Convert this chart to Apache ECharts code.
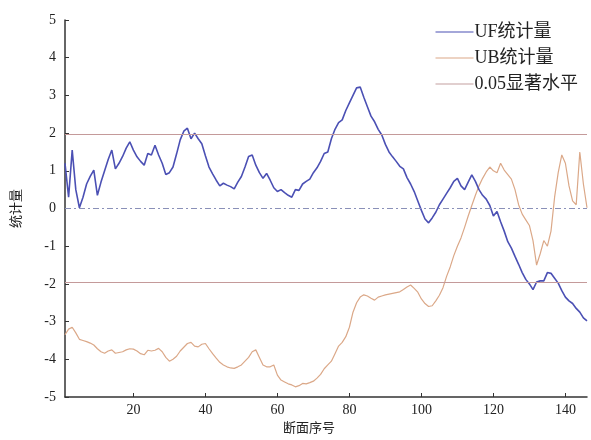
<!DOCTYPE html>
<html>
<head>
<meta charset="utf-8">
<script src="https://cdn.jsdelivr.net/npm/echarts@6/dist/echarts.min.js"></script>
<style>
  html, body { margin: 0; padding: 0; background: #fff; }
  #chart { width: 591px; height: 440px; }
</style>
</head>
<body>
<div id="chart"></div>
<script>
// Mann-Kendall sequential statistics along the section index
const sectionIndex = Array.from({ length: 146 }, (_, i) => i + 1);

const ufValues = [
  1.2, 0.3, 1.55, 0.5, 0.02, 0.3, 0.65, 0.85, 1.02, 0.35,
  0.7, 1.0, 1.3, 1.55, 1.05, 1.2, 1.38, 1.6, 1.77, 1.55,
  1.37, 1.25, 1.15, 1.46, 1.42, 1.68, 1.42, 1.2, 0.9, 0.95,
  1.1, 1.45, 1.82, 2.05, 2.13, 1.85, 2.0, 1.85, 1.72, 1.4,
  1.1, 0.92, 0.75, 0.6, 0.67, 0.62, 0.58, 0.52, 0.7, 0.85,
  1.1, 1.38, 1.42, 1.15, 0.95, 0.8, 0.93, 0.75, 0.55, 0.45,
  0.5, 0.42, 0.35, 0.3, 0.5, 0.48, 0.65, 0.72, 0.78, 0.95,
  1.08, 1.25, 1.46, 1.5, 1.85, 2.1, 2.28, 2.35, 2.6, 2.8,
  3.0, 3.2, 3.22, 2.95, 2.7, 2.45, 2.3, 2.1, 1.95, 1.7,
  1.5, 1.37, 1.25, 1.12, 1.05, 0.82, 0.65, 0.45, 0.2, -0.05,
  -0.28, -0.38, -0.25, -0.1, 0.1, 0.25, 0.4, 0.55, 0.72, 0.8,
  0.6, 0.5, 0.7, 0.89, 0.72, 0.5, 0.35, 0.25, 0.08, -0.2,
  -0.08, -0.35, -0.6, -0.88, -1.05, -1.27, -1.48, -1.7, -1.88, -2.0,
  -2.15, -1.95, -1.92, -1.92, -1.7, -1.72, -1.85, -1.98, -2.18, -2.35,
  -2.45, -2.52, -2.65, -2.75, -2.9, -2.98
];

const ubValues = [
  -3.35, -3.2, -3.15, -3.3, -3.47, -3.5, -3.53, -3.57, -3.62, -3.72,
  -3.8, -3.84, -3.78, -3.75, -3.84, -3.82, -3.8, -3.75, -3.72, -3.73,
  -3.78, -3.85, -3.88, -3.76, -3.78, -3.76, -3.71, -3.8, -3.95, -4.05,
  -4.0, -3.92, -3.78, -3.68, -3.58, -3.55, -3.65, -3.67, -3.6, -3.58,
  -3.72, -3.85, -3.97, -4.08, -4.15, -4.2, -4.23, -4.24, -4.2, -4.15,
  -4.05, -3.95, -3.8, -3.75, -3.95, -4.15, -4.2, -4.2, -4.15, -4.42,
  -4.55, -4.6, -4.65, -4.68, -4.73, -4.7, -4.64, -4.65, -4.62, -4.58,
  -4.5, -4.4, -4.25, -4.15, -4.05, -3.85, -3.65, -3.55, -3.4, -3.15,
  -2.75, -2.5, -2.35, -2.29, -2.32, -2.38, -2.43, -2.35, -2.32, -2.29,
  -2.27, -2.25, -2.23, -2.21, -2.15, -2.08, -2.03, -2.12, -2.22, -2.4,
  -2.52, -2.6, -2.58, -2.45, -2.3, -2.1, -1.8, -1.55, -1.25, -1.0,
  -0.78, -0.5, -0.2, 0.08, 0.35, 0.6, 0.8, 0.97, 1.1, 1.0,
  0.95, 1.2, 1.02, 0.9, 0.78, 0.5, 0.1, -0.15, -0.3, -0.45,
  -0.85, -1.5, -1.2, -0.85, -1.0, -0.6, 0.3, 0.95, 1.42, 1.2,
  0.6, 0.2, 0.1, 1.5, 0.65, 0.02
];

const xTickValues = [20, 40, 60, 80, 100, 120, 140];
const yTickValues = [-5, -4, -3, -2, -1, 0, 1, 2, 3, 4, 5];
const significanceLevel = 1.96;

const FONT = "'Liberation Serif', 'Noto Sans CJK SC', serif";

const pairs = vals => sectionIndex.map((x, i) => [x, vals[i]]);

const chart = echarts.init(document.getElementById('chart'), null, { renderer: 'canvas' });

chart.setOption({
  animation: false,
  backgroundColor: '#fff',
  textStyle: { fontFamily: FONT },
  grid: { left: 65, right: 4, top: 20, bottom: 43 },
  legend: {
    orient: 'vertical',
    right: 8,
    top: 18,
    itemWidth: 38,
    itemHeight: 10,
    itemGap: 8,
    icon: 'path://M0,5L38,5L38,6L0,6Z',
    textStyle: { fontFamily: FONT, fontSize: 18, color: '#222', padding: [0, 0, 0, -4] },
    data: ['UF统计量', 'UB统计量', '0.05显著水平']
  },
  xAxis: {
    type: 'value',
    min: 1,
    max: 146,
    name: '断面序号',
    nameLocation: 'middle',
    nameGap: 23,
    nameTextStyle: { fontFamily: FONT, fontSize: 13, color: '#222', padding: [0, 34, 0, 0] },
    axisLine: { onZero: false, lineStyle: { color: '#333', width: 1.5 } },
    axisTick: { inside: true, length: 4, customValues: xTickValues, lineStyle: { color: '#333' } },
    axisLabel: { customValues: xTickValues, fontFamily: FONT, fontSize: 14, color: '#222', margin: 6 },
    splitLine: { show: false }
  },
  yAxis: {
    type: 'value',
    min: -5,
    max: 5,
    interval: 1,
    name: '统计量',
    nameLocation: 'middle',
    nameGap: 42,
    nameTextStyle: { fontFamily: FONT, fontSize: 13, color: '#222' },
    axisLine: { show: true, onZero: false, lineStyle: { color: '#333', width: 1.5 } },
    axisTick: { inside: true, length: 4, lineStyle: { color: '#333' } },
    axisLabel: {
      customValues: yTickValues,
      fontFamily: FONT, fontSize: 14, color: '#222', margin: 9
    },
    splitLine: { show: false }
  },
  series: [
    {
      name: 'UF统计量',
      type: 'line',
      data: pairs(ufValues),
      showSymbol: false,
      color: '#4b50b4',
      lineStyle: { color: '#4b50b4', width: 1.6 },
      z: 4
    },
    {
      name: 'UB统计量',
      type: 'line',
      data: pairs(ubValues),
      showSymbol: false,
      color: '#dba888',
      lineStyle: { color: '#dba888', width: 1.2 },
      z: 3,
      markLine: {
        silent: true,
        symbol: 'none',
        label: { show: false },
        lineStyle: { color: '#8a90b8', width: 1, type: [6, 3, 2, 3] },
        data: [{ yAxis: 0 }]
      }
    },
    {
      name: '0.05显著水平',
      type: 'line',
      data: [],
      color: '#c4a0a0',
      lineStyle: { color: '#c4a0a0', width: 1 },
      markLine: {
        silent: true,
        symbol: 'none',
        label: { show: false },
        lineStyle: { color: '#c49a9a', width: 1.2, type: 'solid' },
        data: [{ yAxis: significanceLevel }, { yAxis: -significanceLevel }]
      }
    }
  ]
});
</script>
</body>
</html>
